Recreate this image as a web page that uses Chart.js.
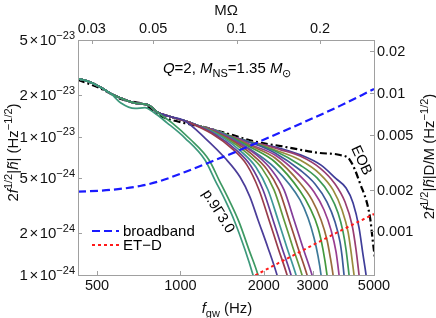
<!DOCTYPE html>
<html>
<head>
<meta charset="utf-8">
<title>Q=2 spectra</title>
<script src="https://cdn.jsdelivr.net/npm/chart.js@4.4.1/dist/chart.umd.min.js"></script>
<style>
  html, body { margin: 0; padding: 0; background: #fff; }
  #wrap { width: 436px; height: 318px; }
</style>
</head>
<body>
<div id="wrap"><canvas id="chart" width="436" height="318"></canvas></div>
<script>
// tick values
const fTicks = [500, 1000, 2000, 3000, 5000];
const mwTicks = [0.03, 0.05, 0.1, 0.2];
const hTicks = [1e-24, 2e-24, 5e-24, 1e-23, 2e-23, 5e-23];
const hdmTicks = [0.001, 0.002, 0.005, 0.01, 0.02];

// axis conversions
const mTotal = 4.05;        // 1.35 + 2*1.35, solar masses
const tSun = 4.925491e-6;   // G Msun / c^3 (s)
const mwPerHz = Math.PI * mTotal * tSun;
const dOverM = 4.83e20;     // right axis / left axis

// shared low-frequency part of the numerical spectra [f (Hz), 2 f^1/2 |h|]
const inspiral = [
  [427, 2.63e-23], [472, 2.48e-23], [513, 2.29e-23], [562, 2.04e-23],
  [610, 1.90e-23], [686, 1.75e-23], [745, 1.72e-23], [777, 1.67e-23],
  [823, 1.51e-23], [902, 1.41e-23], [1065, 1.28e-23], [1177, 1.19e-23],
  [1279, 1.14e-23], [1390, 1.08e-23], [1511, 1.01e-23], [1642, 9.62e-24],
  [1784, 9.15e-24], [1939, 8.85e-24], [2107, 8.56e-24], [2289, 8.28e-24]
];

// cut-off tails, one per equation of state
const tailA = [[610, 1.75e-23], [686, 1.60e-23], [745, 1.62e-23], [800, 1.50e-23], [895, 1.26e-23], [1039, 9.78e-24], [1227, 6.78e-24], [1333, 4.86e-24], [1449, 3.49e-24], [1562, 2.50e-24], [1711, 1.52e-24], [1829, 1.0e-24], [1891, 7.8e-25]];
const tailB = [[823, 1.51e-23], [933, 1.26e-23], [1083, 9.62e-24], [1269, 6.78e-24], [1379, 4.86e-24], [1498, 3.49e-24], [1628, 2.42e-24], [1769, 1.52e-24], [1907, 1.0e-24], [1971, 7.8e-25]];
const tailC = [[1039, 1.30e-23], [1227, 9.78e-24], [1449, 7.01e-24], [1642, 5.11e-24], [1784, 3.66e-24], [1907, 2.50e-24], [2072, 1.57e-24], [2233, 1.0e-24], [2309, 7.8e-25]];
const tailD = [[1056, 1.28e-23], [1301, 1.05e-23], [1536, 8.20e-24], [1740, 6.23e-24], [1923, 4.12e-24], [2089, 2.50e-24], [2252, 1.57e-24], [2427, 1.0e-24], [2509, 7.8e-25]];
const tailE = [[1092, 1.26e-23], [1345, 1.03e-23], [1588, 8.04e-24], [1799, 6.12e-24], [1988, 4.12e-24], [2160, 2.50e-24], [2328, 1.57e-24], [2509, 1.0e-24], [2594, 7.8e-25]];
const tailF = [[1139, 1.22e-23], [1402, 1.005e-23], [1655, 7.84e-24], [1875, 6.01e-24], [2072, 4.12e-24], [2252, 2.50e-24], [2427, 1.57e-24], [2615, 1.0e-24], [2704, 7.8e-25]];
const tailG = [[1197, 1.18e-23], [1473, 9.65e-24], [1740, 7.60e-24], [1971, 5.90e-24], [2178, 4.12e-24], [2367, 2.50e-24], [2551, 1.57e-24], [2749, 1.0e-24], [2842, 7.8e-25]];
const tailH = [[1248, 1.15e-23], [1536, 9.37e-24], [1814, 7.44e-24], [2055, 5.80e-24], [2270, 4.12e-24], [2467, 2.50e-24], [2659, 1.57e-24], [2866, 1.0e-24], [2963, 7.8e-25]];
const tailI = [[1301, 1.125e-23], [1601, 9.13e-24], [1891, 7.32e-24], [2142, 5.70e-24], [2367, 4.12e-24], [2572, 2.50e-24], [2772, 1.57e-24], [2987, 1.0e-24], [3089, 7.8e-25]];
const tailJ = [[1367, 1.092e-23], [1784, 8.14e-24], [2196, 5.93e-24], [2704, 3.49e-24], [2890, 2.58e-24], [3038, 1.85e-24], [3140, 1.37e-24], [3220, 1.0e-24], [3274, 7.5e-25]];
const tailK = [[1437, 1.052e-23], [1784, 8.42e-24], [2196, 6.56e-24], [2704, 4.05e-24], [2938, 3.05e-24], [3140, 2.19e-24], [3274, 1.52e-24], [3384, 1.0e-24], [3441, 7.5e-25]];
const tailL = [[1511, 1.01e-23], [1784, 8.63e-24], [2196, 7.01e-24], [2704, 4.62e-24], [2987, 3.49e-24], [3220, 2.50e-24], [3384, 1.79e-24], [3470, 1.37e-24], [3558, 1.0e-24], [3617, 7.5e-25]];
const tailM = [[1588, 9.81e-24], [1784, 8.79e-24], [2196, 7.37e-24], [2704, 5.20e-24], [3038, 3.98e-24], [3301, 2.95e-24], [3499, 2.11e-24], [3647, 1.47e-24], [3740, 1.0e-24], [3802, 7.5e-25]];
const tailN = [[1669, 9.53e-24], [1939, 8.56e-24], [2196, 7.62e-24], [2704, 5.74e-24], [3063, 4.55e-24], [3384, 3.37e-24], [3617, 2.42e-24], [3771, 1.73e-24], [3834, 1.37e-24], [3898, 1.0e-24], [3964, 7.5e-25]];
const tailO = [[1755, 9.25e-24], [2196, 7.88e-24], [2704, 6.24e-24], [3114, 5.03e-24], [3470, 3.78e-24], [3709, 2.81e-24], [3866, 2.05e-24], [3964, 1.52e-24], [4064, 1.0e-24], [4132, 7.5e-25]];
const tailP = [[1844, 9.03e-24], [2196, 8.01e-24], [2704, 6.78e-24], [3193, 5.37e-24], [3558, 4.12e-24], [3834, 2.95e-24], [4030, 2.05e-24], [4132, 1.47e-24], [4236, 1.0e-24], [4307, 7.5e-25]];
const tailQ = [[1971, 8.79e-24], [2289, 8.07e-24], [2704, 7.25e-24], [3193, 5.93e-24], [3617, 4.55e-24], [3931, 3.37e-24], [4167, 2.30e-24], [4307, 1.52e-24], [4416, 1.0e-24], [4490, 7.5e-25]];
const tailR = [[2215, 8.39e-24], [2726, 7.36e-24], [3220, 6.23e-24], [3647, 4.97e-24], [3964, 4.25e-24], [4201, 3.31e-24], [4416, 2.19e-24], [4566, 1.39e-24], [4681, 1.0e-24], [4760, 7.5e-25]];

const eob = [
  [427, 2.58e-23], [513, 2.24e-23], [610, 1.87e-23], [745, 1.70e-23],
  [844, 1.42e-23], [1040, 1.25e-23], [1177, 1.19e-23], [1511, 1.04e-23],
  [1784, 9.4e-24], [2400, 8.42e-24], [3190, 7.62e-24], [3770, 7.37e-24],
  [4093, 6.78e-24], [4448, 4.62e-24], [4834, 2.63e-24], [4960, 1.70e-24], [5100, 1.1e-24]
];
const broadband = [
  [427, 4.0e-24], [557, 4.12e-24], [715, 4.4e-24], [844, 4.78e-24], [1040, 5.56e-24],
  [1310, 6.67e-24], [1641, 8.0e-24], [2105, 9.94e-24], [2701, 1.235e-23],
  [3767, 1.67e-23], [5000, 2.21e-23]
];
const etd = [[1783, 9.5e-25], [2701, 1.47e-24], [3767, 2.08e-24], [5000, 2.76e-24]];

// Mathematica-style line colours (first entry is drawn on top)
const curves = [
  { tail: tailA, color: '#3D997C' }, { tail: tailB, color: '#3D9962' },
  { tail: tailC, color: '#4B3D99' }, { tail: tailD, color: '#993D4B' },
  { tail: tailE, color: '#653D99' }, { tail: tailF, color: '#3D9799' },
  { tail: tailG, color: '#62993D' }, { tail: tailH, color: '#994E3D' },
  { tail: tailI, color: '#843D99' }, { tail: tailJ, color: '#3D7999' },
  { tail: tailK, color: '#43993D' }, { tail: tailL, color: '#996D3D' },
  { tail: tailM, color: '#993D90' }, { tail: tailN, color: '#3D5A99' },
  { tail: tailO, color: '#3D9956' }, { tail: tailP, color: '#998B3D' },
  { tail: tailQ, color: '#993D71' }, { tail: tailR, color: '#3F3D99' }
];

const toXY = pts => pts.map(([x, y]) => ({ x, y }));
const withInspiral = tail => inspiral.filter(p => p[0] < tail[0][0]).concat(tail);

const datasets = [
  { data: toXY(broadband), borderColor: '#1a1aff', borderWidth: 2.2, borderDash: [8, 4] },
  { data: toXY(etd), borderColor: '#ff1a1a', borderWidth: 2, borderDash: [3, 3] }
];
curves.forEach(c => datasets.push({ data: toXY(withInspiral(c.tail)), borderColor: c.color, borderWidth: 1.7 }));
datasets.push({ data: toXY(eob), borderColor: '#000', borderWidth: 2.2, borderDash: [7, 3, 2, 3] });
datasets.forEach(d => Object.assign(d, { pointRadius: 0, fill: false, clip: 0, cubicInterpolationMode: 'monotone' }));

// text helpers
const FONT = '"Liberation Sans", Arial, sans-serif';
const n = t => ({ t });
const it = t => ({ t, i: true });
const sup = t => ({ t, s: 1 });
const sub = t => ({ t, s: -1 });

function segFont(s, size) {
  const sz = s.s ? Math.round(size * 0.72) : size;
  return (s.i ? 'italic ' : '') + sz + 'px ' + FONT;
}
function richWidth(ctx, segs, size) {
  let w = 0;
  segs.forEach(s => { ctx.font = segFont(s, size); w += ctx.measureText(s.t).width + (s.g || 0); });
  return w;
}
function drawRich(ctx, segs, x, y, size, align) {
  const w = richWidth(ctx, segs, size);
  let cx = align === 'center' ? x - w / 2 : align === 'right' ? x - w : x;
  ctx.textAlign = 'left';
  ctx.textBaseline = 'alphabetic';
  segs.forEach(s => {
    ctx.font = segFont(s, size);
    const dy = s.s === 1 ? -size * 0.42 : s.s === -1 ? size * 0.25 : 0;
    ctx.fillText(s.t, cx, y + dy);
    cx += ctx.measureText(s.t).width + (s.g || 0);
  });
}

const decorations = {
  id: 'decorations',
  afterDraw(chart) {
    const { ctx, chartArea: a, scales } = chart;
    const { x, x2, y, y2 } = scales;
    ctx.save();

    // frame and inward ticks
    ctx.strokeStyle = '#a0a0a0';
    ctx.lineWidth = 1;
    ctx.strokeRect(a.left + 0.5, a.top + 0.5, a.right - a.left, a.bottom - a.top);
    ctx.beginPath();
    fTicks.forEach(v => { const p = Math.round(x.getPixelForValue(v)) + 0.5; ctx.moveTo(p, a.bottom); ctx.lineTo(p, a.bottom - 4); });
    mwTicks.forEach(v => { const p = Math.round(x2.getPixelForValue(v)) + 0.5; ctx.moveTo(p, a.top); ctx.lineTo(p, a.top + 4); });
    hTicks.forEach(v => { const p = Math.round(y.getPixelForValue(v)) + 0.5; ctx.moveTo(a.left, p); ctx.lineTo(a.left + 4, p); });
    hdmTicks.forEach(v => { const p = Math.round(y2.getPixelForValue(v)) + 0.5; ctx.moveTo(a.right, p); ctx.lineTo(a.right - 4, p); });
    ctx.stroke();

    // tick labels
    ctx.fillStyle = '#111';
    fTicks.forEach(v => drawRich(ctx, [n(String(v))], x.getPixelForValue(v), a.bottom + 15, 14.5, 'center'));
    mwTicks.forEach(v => drawRich(ctx, [n(String(v))], x2.getPixelForValue(v), a.top - 7, 14.5, 'center'));
    hTicks.forEach(v => {
      const e = Math.floor(Math.log10(v) + 1e-9);
      const m = Math.round(v / Math.pow(10, e));
      drawRich(ctx, [{ t: String(m), g: 1.5 }, { t: '×', g: 1.5 }, n('10'), sup('−' + Math.abs(e))],
        a.left - 3, y.getPixelForValue(v) + 5, 15, 'right');
    });
    hdmTicks.forEach(v => drawRich(ctx, [n(String(v))], a.right + 3, y2.getPixelForValue(v) + 5, 14.5, 'left'));

    // axis titles
    drawRich(ctx, [it('f'), sub('gw'), n(' (Hz)')], (a.left + a.right) / 2 + 1, a.bottom + 38, 15, 'center');
    drawRich(ctx, [n('MΩ')], (a.left + a.right) / 2, a.top - 25, 15, 'center');
    const mid = (a.top + a.bottom) / 2;
    ctx.save();
    ctx.translate(18, mid - 5);
    ctx.rotate(-Math.PI / 2);
    drawRich(ctx, [n('2'), it('f'), sup('1/2'), n('|'), it('h̃'), n('| (Hz'), sup('−1/2'), n(')')], 0, 0, 15, 'center');
    ctx.restore();
    ctx.save();
    ctx.translate(434, mid - 1);
    ctx.rotate(-Math.PI / 2);
    drawRich(ctx, [n('2'), it('f'), sup('1/2'), n('|'), it('h̃'), n('|D/M (Hz'), sup('−1/2'), n(')')], 0, 0, 15, 'center');
    ctx.restore();

    // annotations
    ctx.fillStyle = '#000';
    drawRich(ctx, [it('Q'), n('=2, '), it('M'), sub('NS'), n('=1.35 '), it('M'), sub('⊙')],
      x.getPixelForValue(865), y.getPixelForValue(2.89e-23), 15, 'left');
    ctx.save();
    ctx.translate(x.getPixelForValue(4528), y.getPixelForValue(6.78e-24));
    ctx.rotate(65 * Math.PI / 180);
    drawRich(ctx, [n('EOB')], 0, 5, 14.5, 'center');
    ctx.restore();
    ctx.save();
    ctx.translate(x.getPixelForValue(1378), y.getPixelForValue(2.90e-24));
    ctx.rotate(58 * Math.PI / 180);
    drawRich(ctx, [n('p.9Γ3.0')], 0, 5, 14.5, 'center');
    ctx.restore();

    // legend
    const lx = a.left + 14, ly = a.bottom - 44;
    ctx.lineWidth = 2.2;
    ctx.strokeStyle = '#1a1aff';
    ctx.setLineDash([8, 4]);
    ctx.beginPath(); ctx.moveTo(lx, ly); ctx.lineTo(lx + 27, ly); ctx.stroke();
    ctx.lineWidth = 2;
    ctx.strokeStyle = '#ff1a1a';
    ctx.setLineDash([3, 3]);
    ctx.beginPath(); ctx.moveTo(lx, ly + 14); ctx.lineTo(lx + 27, ly + 14); ctx.stroke();
    ctx.setLineDash([]);
    drawRich(ctx, [n('broadband')], lx + 31, ly + 5, 15, 'left');
    drawRich(ctx, [n('ET−D')], lx + 31, ly + 19, 15, 'left');

    ctx.restore();
  }
};

new Chart(document.getElementById('chart'), {
  type: 'line',
  data: { datasets },
  options: {
    responsive: false,
    animation: false,
    devicePixelRatio: 1,
    layout: { padding: { left: 78, right: 62, top: 40, bottom: 43 } },
    plugins: { legend: { display: false }, tooltip: { enabled: false } },
    scales: {
      x: { type: 'logarithmic', min: 427, max: 5000, display: false },
      x2: { type: 'logarithmic', position: 'top', min: 427 * mwPerHz, max: 5000 * mwPerHz, display: false },
      y: { type: 'logarithmic', min: 1e-24, max: 5e-23, display: false },
      y2: { type: 'logarithmic', position: 'right', min: 1e-24 * dOverM, max: 5e-23 * dOverM, display: false }
    }
  },
  plugins: [decorations]
});
</script>
</body>
</html>
